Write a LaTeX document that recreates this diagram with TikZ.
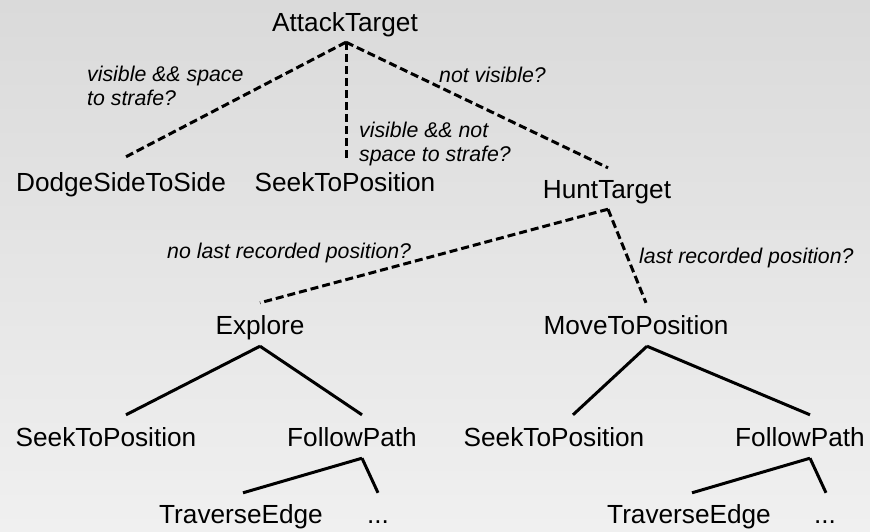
\documentclass[tikz,border=0pt]{standalone}
\usepackage{fontspec}
\setmainfont{Liberation Sans}
\usetikzlibrary{positioning, calc}
\definecolor{bgtop}{RGB}{218,218,218}
\definecolor{bgbot}{RGB}{240,240,240}

\begin{document}
\begin{tikzpicture}[
			x=1pt, y=-1pt,
			task/.style = {inner sep=0pt, anchor=base, text height=18pt, text depth=5pt, font=\fontsize{26.2}{30}\selectfont},
			cond/.style = {inner sep=0pt, anchor=base west, align=left, font=\fontsize{21.3}{23.5}\selectfont\itshape},
			sel/.style = {line width=3pt, dash pattern=on 8pt off 4pt},
			seq/.style = {line width=3pt},
		]
			% background
			\shade[top color=bgtop, bottom color=bgbot] (0,0) rectangle (870,531);
			\useasboundingbox (0,0) rectangle (870,531);

			% top level
			\node[task] (attack) at (345,31) {AttackTarget};
			\node[task] (dodge) at (121,191) {DodgeSideToSide};
			\node[task] (seek) at (345,191) {SeekToPosition};
			\node[task] (hunt) at (607,198) {HuntTarget};
			% hunt subtree
			\node[task] (explore) at (260,334) {Explore};
			\node[task] (moveto) at (636,334) {MoveToPosition};
			\node[task] (seekl) at (106,446) {SeekToPosition};
			\node[task] (followl) at (352,446) {FollowPath};
			\node[task] (seekr) at (554,446) {SeekToPosition};
			\node[task] (followr) at (800,446) {FollowPath};
			\node[task] (edgel) at (241,523) {TraverseEdge};
			\node[task] (morel) at (378,523) {...};
			\node[task] (edger) at (689,523) {TraverseEdge};
			\node[task] (morer) at (825,523) {...};

			% conditions (base = last line)
			\node[cond] (c1) at (87,105) {visible \&\& space\\to strafe?};
			\node[cond] (c2) at (359,161) {visible \&\& not\\space to strafe?};
			\node[cond] (c3) at (439,82) {not visible?};
			\node[cond] (c4) at (167,258) {no last recorded position?};
			\node[cond] (c5) at (639,263) {last recorded position?};

			% selector edges
			\draw[sel] ([xshift=1pt,yshift=-6pt]attack.south) -- ([xshift=3pt,yshift=15pt]dodge.north);
			\draw[sel] ([xshift=1pt,yshift=-6pt]attack.south) -- ([xshift=1pt,yshift=15pt]seek.north);
			\draw[sel] ([xshift=1pt,yshift=-6pt]attack.south) -- ([xshift=1pt,yshift=12pt]hunt.north);
			\draw[sel] ([xshift=1pt,yshift=-6pt]hunt.south) -- ([yshift=13pt]explore.north);
			\draw[sel] ([xshift=1pt,yshift=-6pt]hunt.south) -- ([xshift=10pt,yshift=13pt]moveto.north);

			% sequence edges
			\draw[seq] ([yshift=-7pt]explore.south) -- ([xshift=20pt,yshift=13pt]seekl.north);
			\draw[seq] ([yshift=-7pt]explore.south) -- ([xshift=10pt,yshift=13pt]followl.north);
			\draw[seq] ([xshift=11pt,yshift=-7pt]moveto.south) -- ([xshift=19pt,yshift=13pt]seekr.north);
			\draw[seq] ([xshift=11pt,yshift=-7pt]moveto.south) -- ([xshift=10pt,yshift=13pt]followr.north);
			\draw[seq] ([xshift=10pt,yshift=-7pt]followl.south) -- ([xshift=2pt,yshift=12pt]edgel.north);
			\draw[seq] ([xshift=10pt,yshift=-7pt]followl.south) -- ([yshift=12pt]morel.north);
			\draw[seq] ([xshift=10pt,yshift=-7pt]followr.south) -- ([xshift=3pt,yshift=12pt]edger.north);
			\draw[seq] ([xshift=10pt,yshift=-7pt]followr.south) -- ([xshift=1pt,yshift=12pt]morer.north);
		\end{tikzpicture}
\end{document}
